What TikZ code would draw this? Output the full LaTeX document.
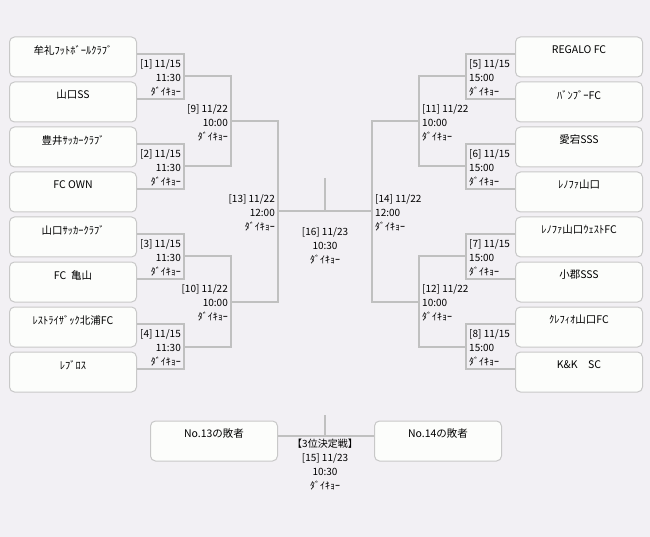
\documentclass[tikz,border=0pt]{standalone}
\usepackage{fontspec}
\setmainfont{Noto Sans CJK JP}
\definecolor{bgc}{RGB}{242,240,244}
\definecolor{boxfill}{RGB}{252,253,251}
\definecolor{boxline}{RGB}{200,200,200}
\definecolor{connc}{RGB}{192,192,192}
\tikzset{
  team/.style={draw=boxline, fill=boxfill, rounded corners=5pt, line width=1pt,
    minimum width=127pt, minimum height=40pt, inner sep=0pt,
    label={[font=\fontsize{10.5}{12}\selectfont, yshift=7pt]center:#1}},
  conn/.style={draw=connc, line width=2pt},
  lbl/.style={font=\fontsize{10}{14}\selectfont, inner sep=0pt},
}
\begin{document}
\begin{tikzpicture}[x=1pt,y=-1pt]
\fill[bgc] (0,0) rectangle (650,537);
\useasboundingbox (0,0) rectangle (650,537);

% left teams
\node[team={牟礼ﾌｯﾄﾎﾞｰﾙｸﾗﾌﾞ}] (b1) at (73,57) {};
\node[team={山口SS}] (b2) at (73,102) {};
\node[team={豊井ｻｯｶｰｸﾗﾌﾞ}] (b3) at (73,147) {};
\node[team={FC OWN}] (b4) at (73,192) {};
\node[team={山口ｻｯｶｰｸﾗﾌﾞ}] (b5) at (73,237) {};
\node[team={FC~ 亀山}] (b6) at (73,282) {};
\node[team={ﾚｽﾄﾗｲｻﾞｯｸ北浦FC}] (b7) at (73,327) {};
\node[team={ﾚﾌﾞﾛｽ}] (b8) at (73,372) {};
% right teams
\node[team={REGALO FC}] (b9) at (579,57) {};
\node[team={ﾊﾞﾝﾌﾞｰFC}] (b10) at (579,102) {};
\node[team={愛宕SSS}] (b11) at (579,147) {};
\node[team={ﾚﾉﾌｧ山口}] (b12) at (579,192) {};
\node[team={ﾚﾉﾌｧ山口ｳｪｽﾄFC}] (b13) at (579,237) {};
\node[team={小郡SSS}] (b14) at (579,282) {};
\node[team={ｸﾚﾌｨｵ山口FC}] (b15) at (579,327) {};
\node[team={K\&K　SC}] (b16) at (579,372) {};
% bottom
\node[team={No.13の敗者}] (l13) at (214,441) {};
\node[team={No.14の敗者}] (l14) at (438,441) {};

% junction coordinates
\coordinate (m1) at (184,76.5);
\coordinate (m2) at (184,166.5);
\coordinate (m3) at (184,256.5);
\coordinate (m4) at (184,346.5);
\coordinate (m9) at (231,121.5);
\coordinate (m10) at (231,301.5);
\coordinate (m13) at (278,211.5);
\coordinate (m5) at (466,76.5);
\coordinate (m6) at (466,166.5);
\coordinate (m7) at (466,256.5);
\coordinate (m8) at (466,346.5);
\coordinate (m11) at (419,121.5);
\coordinate (m12) at (419,301.5);
\coordinate (m14) at (372,211.5);
\coordinate (c16t) at (325,178);
\coordinate (c16b) at (325,211.5);
\coordinate (c15t) at (325,415);
\coordinate (c15b) at (325,436);

% first round
\draw[conn] ([yshift=3pt]b1.east) -| (m1) |- ([yshift=3pt]b2.east);
\draw[conn] ([yshift=3pt]b3.east) -| (m2) |- ([yshift=3pt]b4.east);
\draw[conn] ([yshift=3pt]b5.east) -| (m3) |- ([yshift=3pt]b6.east);
\draw[conn] ([yshift=3pt]b7.east) -| (m4) |- ([yshift=3pt]b8.east);
\draw[conn] ([yshift=3pt]b9.west) -| (m5) |- ([yshift=3pt]b10.west);
\draw[conn] ([yshift=3pt]b11.west) -| (m6) |- ([yshift=3pt]b12.west);
\draw[conn] ([yshift=3pt]b13.west) -| (m7) |- ([yshift=3pt]b14.west);
\draw[conn] ([yshift=3pt]b15.west) -| (m8) |- ([yshift=3pt]b16.west);
% second round
\draw[conn] (m1) -| (m9) |- (m2);
\draw[conn] (m3) -| (m10) |- (m4);
\draw[conn] (m5) -| (m11) |- (m6);
\draw[conn] (m7) -| (m12) |- (m8);
% semis
\draw[conn] (m9) -| (m13) |- (m10);
\draw[conn] (m11) -| (m14) |- (m12);
% final
\draw[conn] (m13) -- (m14);
\draw[conn] (c16t) -- (c16b);
% third place
\draw[conn] ([yshift=5pt]l13.east) -- ([yshift=5pt]l14.west);
\draw[conn] (c15t) -- (c15b);

% labels left
\node[lbl, anchor=east, align=right] at ([xshift=-3pt,yshift=-1pt]m1) {[1] 11/15\\11:30\\ﾀﾞｲｷｮｰ};
\node[lbl, anchor=east, align=right] at ([xshift=-3pt,yshift=-1pt]m2) {[2] 11/15\\11:30\\ﾀﾞｲｷｮｰ};
\node[lbl, anchor=east, align=right] at ([xshift=-3pt,yshift=-1pt]m3) {[3] 11/15\\11:30\\ﾀﾞｲｷｮｰ};
\node[lbl, anchor=east, align=right] at ([xshift=-3pt,yshift=-1pt]m4) {[4] 11/15\\11:30\\ﾀﾞｲｷｮｰ};
\node[lbl, anchor=east, align=right] at ([xshift=-3pt,yshift=-1pt]m9) {[9] 11/22\\10:00\\ﾀﾞｲｷｮｰ};
\node[lbl, anchor=east, align=right] at ([xshift=-3pt,yshift=-1pt]m10) {[10] 11/22\\10:00\\ﾀﾞｲｷｮｰ};
\node[lbl, anchor=east, align=right] at ([xshift=-3pt,yshift=-1pt]m13) {[13] 11/22\\12:00\\ﾀﾞｲｷｮｰ};
% labels right
\node[lbl, anchor=west, align=left] at ([xshift=3pt,yshift=-1pt]m5) {[5] 11/15\\15:00\\ﾀﾞｲｷｮｰ};
\node[lbl, anchor=west, align=left] at ([xshift=3pt,yshift=-1pt]m6) {[6] 11/15\\15:00\\ﾀﾞｲｷｮｰ};
\node[lbl, anchor=west, align=left] at ([xshift=3pt,yshift=-1pt]m7) {[7] 11/15\\15:00\\ﾀﾞｲｷｮｰ};
\node[lbl, anchor=west, align=left] at ([xshift=3pt,yshift=-1pt]m8) {[8] 11/15\\15:00\\ﾀﾞｲｷｮｰ};
\node[lbl, anchor=west, align=left] at ([xshift=3pt,yshift=-1pt]m11) {[11] 11/22\\10:00\\ﾀﾞｲｷｮｰ};
\node[lbl, anchor=west, align=left] at ([xshift=3pt,yshift=-1pt]m12) {[12] 11/22\\10:00\\ﾀﾞｲｷｮｰ};
\node[lbl, anchor=west, align=left] at ([xshift=3pt,yshift=-1pt]m14) {[14] 11/22\\12:00\\ﾀﾞｲｷｮｰ};
% center labels
\node[lbl, align=center] (t16) at (325,246) {[16] 11/23\\10:30\\ﾀﾞｲｷｮｰ};
\node[lbl, align=center] (t15) at (325,465) {【3位決定戦】\\{[15] 11/23}\\10:30\\ﾀﾞｲｷｮｰ};
\end{tikzpicture}
\end{document}
